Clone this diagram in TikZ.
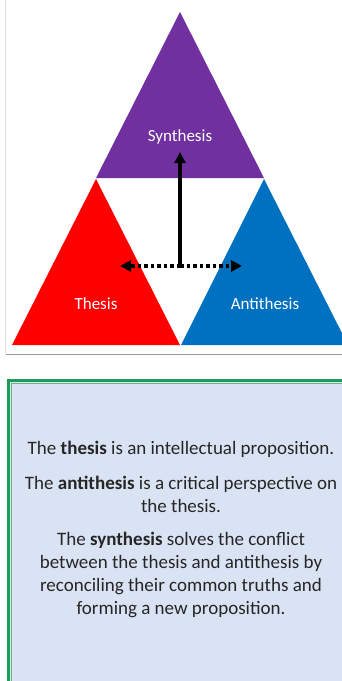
\documentclass[tikz,border=0pt]{standalone}
\usepackage{fontspec}
\setmainfont{Carlito}
\usetikzlibrary{arrows.meta}

\definecolor{synpurple}{HTML}{7030A0}
\definecolor{thesred}{HTML}{FF0000}
\definecolor{antiblue}{HTML}{0070C0}
\definecolor{boxfill}{HTML}{DAE3F3}
\definecolor{boxgreen}{HTML}{1E9B57}
\definecolor{textgrey}{HTML}{262626}

\begin{document}
\begin{tikzpicture}[x=1pt, y=-1pt,
  tri label/.style={text=white, font=\fontsize{17}{20}\selectfont},
  para/.style={text=textgrey, align=center, font=\fontsize{19}{23}\selectfont},
  tip/.style={-{Triangle[length=11pt, width=11pt]}, line width=3.5pt}]
  \useasboundingbox (0,0) rectangle (342,681);
  \clip (0,0) rectangle (342,681);

  % frame round the picture
  \draw[black!12, line width=1pt] (5.5,0) -- (5.5,354);
  \draw[black!40, line width=1pt] (5.5,354) -- (342,354);

  % the three triangles
  \fill[synpurple] (180,12) -- (264,178) -- (96,178) -- cycle;
  \fill[thesred] (96,179) -- (180,345) -- (12,345) -- cycle;
  \fill[antiblue] (264,179) -- (348,345) -- (181,345) -- cycle;

  \node[tri label] (syn) at (180,137) {Synthesis};
  \node[tri label] (thes) at (96,304) {Thesis};
  \node[tri label] (anti) at (265,304) {Antithesis};

  \coordinate (mid) at (180,266);
  \coordinate (up) at (180,152);
  \coordinate (left) at (120,266);
  \coordinate (right) at (242,266);

  \draw[tip] (mid) -- (up);
  \draw[tip, dash pattern=on 3.5pt off 3pt] (mid) -- (left);
  \draw[tip, dash pattern=on 3.5pt off 3pt] (mid) -- (right);

  % text box
  \draw[boxgreen, line width=3pt, fill=boxfill] (8.5,380.5) rectangle (360,700);
  \draw[boxgreen!70, line width=1pt] (11.5,383.5) rectangle (360,700);

  \node[para] (p1) at (181,449) {The \textbf{thesis} is an intellectual proposition.};
  \node[para] (p2) at (181,494.5) {The \textbf{antithesis} is a critical perspective on\\the thesis.};
  \node[para] (p3) at (181,574.5) {The \textbf{synthesis} solves the conflict\\between the thesis and antithesis by\\reconciling their common truths and\\forming a new proposition.};
\end{tikzpicture}
\end{document}
